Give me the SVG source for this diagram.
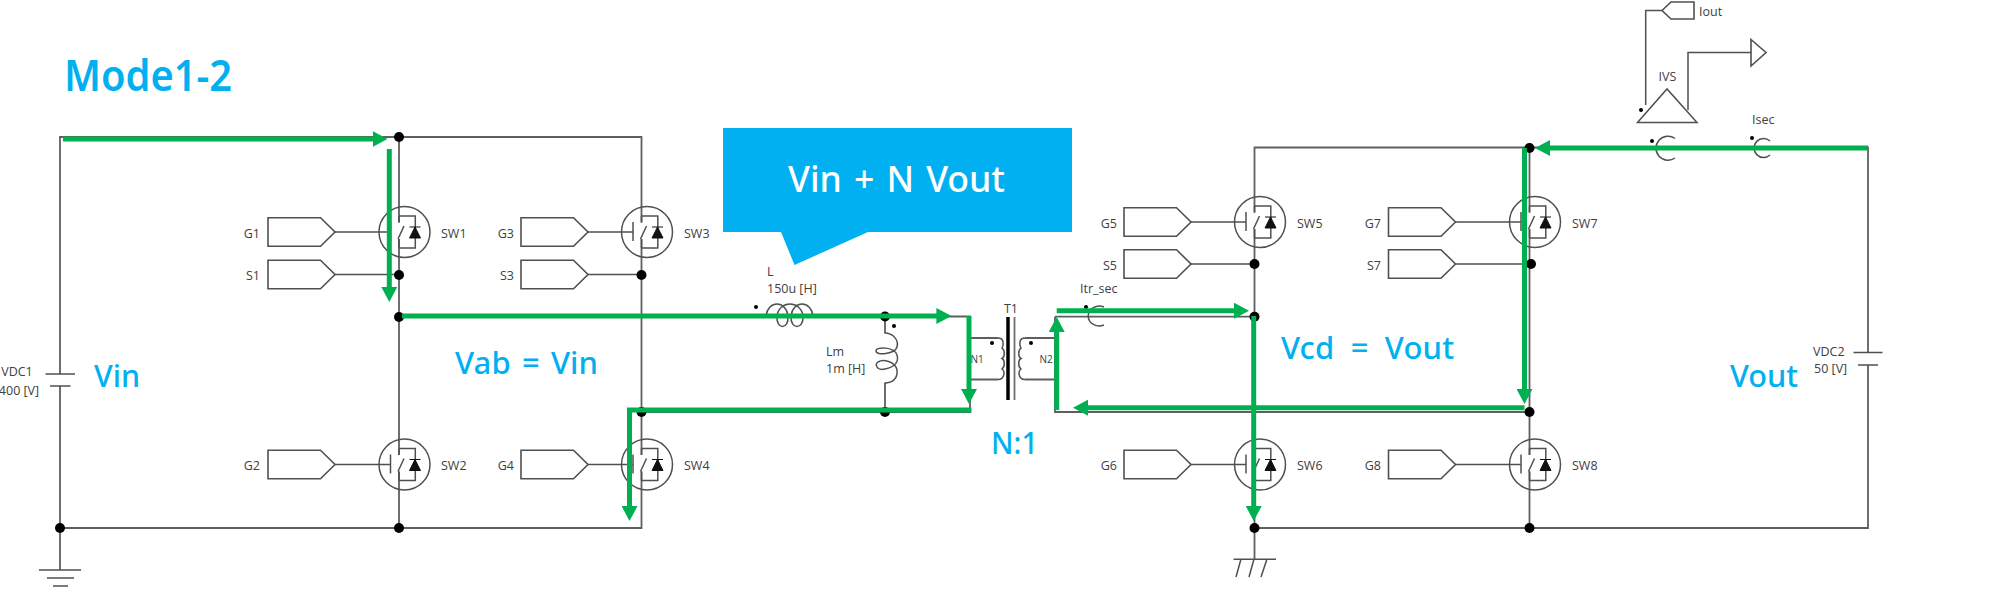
<svg xmlns="http://www.w3.org/2000/svg" width="2000" height="605" viewBox="0 0 2000 605">
<style>
.w{fill:none;stroke:#5f5f5f;stroke-width:1.8}
.s{fill:none;stroke:#505050;stroke-width:1.5}
.p{fill:#fff;stroke:#505050;stroke-width:1.6}
.j{fill:#000}
.t{font-family:"Open Sans","Liberation Sans",sans-serif;font-size:12.5px;fill:#404040}
.e{text-anchor:end}
.m{text-anchor:middle}
.b{font-family:"Noto Sans","Liberation Sans",sans-serif;font-weight:500;font-size:31px;fill:#00b0f0}
.g{fill:none;stroke:#00b050;stroke-width:5;marker-end:url(#ah)}
</style>
<defs>
<marker id="ah" markerUnits="userSpaceOnUse" markerWidth="15" markerHeight="16" viewBox="0 0 15 16" refX="1" refY="8" orient="auto"><path d="M0,0L15,8L0,16z" fill="#00b050"/></marker>
<g id="mos">
<circle cx="5.5" cy="0" r="25.5" class="s"/>
<path d="M0,-16H16.3V16H0M0,-16V-9.5M0,16V7M-1,7L5,-6" class="s"/>
<path d="M-8.5,-10V9" class="s" stroke-width="2"/>
<path d="M10.5,6H21.5L16,-5zM10.5,-5H21.5" fill="#111" stroke="#111" stroke-width="1"/>
</g>
<g id="port"><path d="M-131,-14.3H-78.5L-64,0L-78.5,14.3H-131z" class="p"/></g>
</defs>

<g id="connectors">
<path class="w" d="M60,374V137H641.5V222.5M399,137V222.5M399,239V455M399,471.5V528M641.5,239V455M641.5,471.5V528H60V386M60,528V570"/>
<path class="w" d="M399,316.5H970V412H641.5M885,316.5V333M885,383V412"/>
<path class="w" d="M969,338H998M969,379.5H998M1055,338H1025M1055,379.5H1025"/>
<path class="w" d="M1055,316.7H1254.5M1055,316.7V412H1529.5"/>
<path class="w" d="M1254.5,212.5V147.5H1868V352.5M1868,365V528H1254.5M1254.5,229V455M1254.5,471.5V559M1529.5,147.5V212.5M1529.5,229V455M1529.5,471.5V528"/>
<path class="s" d="M335,232H390.5M335,274.5H399M335,464.5H390.5M588,232H633M588,274.5H641.5M588,464.5H633"/>
<path class="s" d="M1191,222H1246M1191,264H1254.5M1191,464.5H1246M1455.5,222H1521M1455.5,264H1529.5M1455.5,464.5H1521"/>
</g>

<g id="VDC1"><path class="s" d="M45.5,374H75M50,386H70.5"/><text class="t m" x="17" y="376">VDC1</text><text class="t m" x="19" y="395">400 [V]</text></g>
<g id="GND1"><path class="s" d="M39,570H81M47,578H74M53,586H68"/></g>
<g id="GND2"><path class="s" d="M1233.5,559.3H1276M1241,559L1236,577M1254,559L1249,577M1267,559L1261,577"/></g>

<g id="SW1"><use href="#mos" x="399" y="232"/><use href="#port" x="399" y="232"/><text class="t" x="441" y="237.5">SW1</text><text class="t e" x="260" y="237.5">G1</text></g>
<g id="S1"><use href="#port" x="399" y="274.5"/><text class="t e" x="260" y="280">S1</text></g>
<g id="SW2"><use href="#mos" x="399" y="464.5"/><use href="#port" x="399" y="464.5"/><text class="t" x="441" y="470">SW2</text><text class="t e" x="260" y="470">G2</text></g>
<g id="SW3"><use href="#mos" x="641.5" y="232"/><use href="#port" x="652" y="232"/><text class="t" x="684" y="237.5">SW3</text><text class="t e" x="514" y="237.5">G3</text></g>
<g id="S3"><use href="#port" x="652" y="274.5"/><text class="t e" x="514" y="280">S3</text></g>
<g id="SW4"><use href="#mos" x="641.5" y="464.5"/><use href="#port" x="652" y="464.5"/><text class="t" x="684" y="470">SW4</text><text class="t e" x="514" y="470">G4</text></g>

<g id="SW5"><use href="#mos" x="1254.5" y="222"/><use href="#port" x="1255" y="222"/><text class="t" x="1297" y="227.5">SW5</text><text class="t e" x="1117" y="227.5">G5</text></g>
<g id="S5"><use href="#port" x="1255" y="264"/><text class="t e" x="1117" y="269.5">S5</text></g>
<g id="SW6"><use href="#mos" x="1254.5" y="464.5"/><use href="#port" x="1255" y="464.5"/><text class="t" x="1297" y="470">SW6</text><text class="t e" x="1117" y="470">G6</text></g>
<g id="SW7"><use href="#mos" x="1529.5" y="222"/><use href="#port" x="1519.5" y="222"/><text class="t" x="1572" y="227.5">SW7</text><text class="t e" x="1381" y="227.5">G7</text></g>
<g id="S7"><use href="#port" x="1519.5" y="264"/><text class="t e" x="1381" y="269.5">S7</text></g>
<g id="SW8"><use href="#mos" x="1529.5" y="464.5"/><use href="#port" x="1519.5" y="464.5"/><text class="t" x="1572" y="470">SW8</text><text class="t e" x="1381" y="470">G8</text></g>

<g id="L"><path class="s" d="M766,316C768,300 786,300 788,316C789,330 776,330 777,316C779,300 801,300 803,316C804,330 790,330 791,316C793,300 811,300 813,316"/><circle class="j" cx="756" cy="307" r="2"/><text class="t" x="767" y="276">L</text><text class="t" x="767" y="293">150u [H]</text></g>
<g id="Lm"><path class="s" d="M884.5,333C893,333 899,340 897,347C895,354 876,356 876,351C876,346 895,347 897,355C899,362 895,367 885,369C876,371 875,364 878,362C883,359 895,361 897,370C898,378 893,383 884.5,383"/><circle class="j" cx="894" cy="326" r="2"/><text class="t" x="826" y="356">Lm</text><text class="t" x="826" y="373">1m [H]</text></g>

<g id="T1">
<path class="s" d="M998,338C1004,338 1004,344 1002,348.2C1005,350 1005,357 1002,358.5C1005,360 1005,367 1002,369C1005,371 1005,379.5 998,379.5"/>
<path class="s" d="M1025,338C1019,338 1019,344 1021,348.2C1018,350 1018,357 1021,358.5C1018,360 1018,367 1021,369C1018,371 1018,379.5 1025,379.5"/>
<path d="M1008,317V400" stroke="#000" stroke-width="3.5" fill="none"/>
<path d="M1014.5,317V400" stroke="#707070" stroke-width="1.8" fill="none"/>
<circle class="j" cx="992" cy="343" r="2"/><circle class="j" cx="1031" cy="343" r="2"/>
<text class="t m" x="1011" y="313">T1</text>
<text class="t m" x="977" y="363" style="font-size:10px">N1</text>
<text class="t m" x="1046" y="363" style="font-size:10px">N2</text>
</g>

<g id="Itr_sec"><path class="s" d="M1104,307A11,10 0 1 0 1104,325"/><circle class="j" cx="1086" cy="307" r="2"/><text class="t" x="1080" y="293">Itr_sec</text></g>
<g id="VDC2"><path class="s" d="M1853.5,352.5H1882.5M1858,365H1878"/><text class="t" x="1813" y="356">VDC2</text><text class="t" x="1814" y="373">50 [V]</text></g>
<g id="IVS">
<path class="s" d="M1637.5,122.5H1697L1667,89zM1645.7,105V10.5H1662M1688,110V52.5H1751"/>
<path class="p" d="M1662,10.5L1671,2H1694V19H1671z"/>
<path class="p" d="M1751,39.5L1766,52.5L1751,66z"/>
<circle class="j" cx="1641" cy="110" r="2"/>
<text class="t m" x="1667.5" y="81">IVS</text><text class="t" x="1699" y="16">Iout</text>
</g>
<g id="IVS_sensor"><path class="s" d="M1675,138.5A12,12 0 1 0 1675,158"/><circle class="j" cx="1652" cy="141" r="2"/></g>
<g id="Isec"><path class="s" d="M1770,141A9.5,9.5 0 1 0 1770,155"/><circle class="j" cx="1752" cy="138" r="2"/><text class="t" x="1752" y="124">Isec</text></g>

<g id="junctions" class="j">
<circle cx="399" cy="137" r="5"/><circle cx="399" cy="275" r="5"/><circle cx="399" cy="317" r="5"/><circle cx="399" cy="528" r="5"/><circle cx="60" cy="528" r="5"/>
<circle cx="641.5" cy="275" r="5"/><circle cx="641.5" cy="412" r="5"/>
<circle cx="885" cy="316.5" r="5"/><circle cx="885" cy="412" r="5"/>
<circle cx="1254.5" cy="264" r="5"/><circle cx="1254.5" cy="316.7" r="5"/><circle cx="1254.5" cy="528" r="5"/>
<circle cx="1529.5" cy="148" r="5"/><circle cx="1531" cy="264" r="5"/><circle cx="1529.5" cy="412" r="5"/><circle cx="1529.5" cy="528" r="5"/>
</g>

<g id="current-paths">
<path class="g" d="M63,139H373.5"/>
<path class="g" d="M389.3,149V288"/>
<path class="g" d="M402,316H937.4"/>
<path class="g" d="M969,316V390"/>
<path class="g" d="M971.5,410H629.5V507"/>
<path class="g" d="M1056.7,410V331"/>
<path class="g" d="M1056.7,310.7H1235"/>
<path class="g" d="M1253.7,316V507"/>
<path class="g" d="M1868,148H1549"/>
<path class="g" d="M1524.5,148V390"/>
<path class="g" d="M1524.5,407.7H1087"/>
</g>

<g id="callout"><path d="M723,128H1072V232H868L794.5,265L781,232H723z" fill="#00b0f0"/><text x="788" y="191.5" textLength="217" lengthAdjust="spacingAndGlyphs" style="font-family:'Noto Sans','Liberation Sans',sans-serif;font-size:37px;font-weight:500;word-spacing:3px" fill="#fff">Vin + N Vout</text></g>

<g id="labels">
<text class="b" x="64" y="91" textLength="168" lengthAdjust="spacingAndGlyphs" style="font-size:43px;font-weight:600">Mode1-2</text>
<text class="b" x="94" y="387" textLength="46" lengthAdjust="spacingAndGlyphs">Vin</text>
<text class="b" x="455" y="374" textLength="143" lengthAdjust="spacing" style="word-spacing:3px">Vab = Vin</text>
<text class="b" x="991" y="454" textLength="47" lengthAdjust="spacingAndGlyphs">N:1</text>
<text class="b" x="1281" y="359" textLength="173" lengthAdjust="spacing" style="word-spacing:8px">Vcd = Vout</text>
<text class="b" x="1730" y="387" textLength="68" lengthAdjust="spacingAndGlyphs">Vout</text>
</g>
</svg>
